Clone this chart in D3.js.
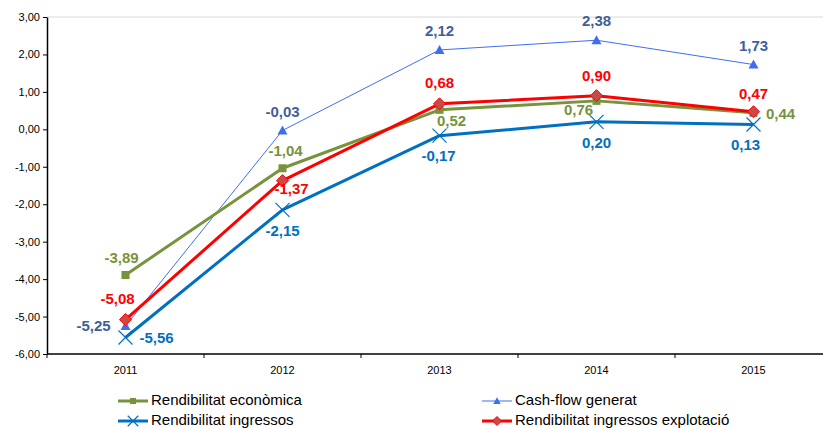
<!DOCTYPE html>
<html>
<head>
<meta charset="utf-8">
<script src="https://cdn.jsdelivr.net/npm/d3@7"></script>
<style>
  html, body { margin: 0; padding: 0; background: #fff; }
  svg { display: block; font-family: "Liberation Sans", Arial, sans-serif; }
</style>
</head>
<body>
<svg id="chart" width="823" height="428"></svg>
<script>
// Years on the horizontal axis
const years = ["2011", "2012", "2013", "2014", "2015"];

// Series values
const rendEconomica = [-3.89, -1.04, 0.52, 0.76, 0.44];
const cashFlow = [-5.25, -0.03, 2.12, 2.38, 1.73];
const rendIngressos = [-5.56, -2.15, -0.17, 0.20, 0.13];
const rendExplotacio = [-5.08, -1.37, 0.68, 0.90, 0.47];

// Series names
const seriesNames = ["Rendibilitat econòmica", "Cash-flow generat", "Rendibilitat ingressos", "Rendibilitat ingressos explotació"];

// Y-axis tick values
const yTicks = [3, 2, 1, 0, -1, -2, -3, -4, -5, -6];

const svg = d3.select("#chart");
const fmt = v => d3.format(".2f")(v).replace(".", ",").replace("−", "-");

const plotLeft = 47, plotTop = 17, plotBottom = 354, bandW = 157;
const x = d3.scaleBand().domain(years).range([plotLeft, plotLeft + bandW * years.length]);
const y = d3.scaleLinear().domain([-6, 3]).range([plotBottom, plotTop]);
const cx = d => x(d) + x.bandwidth() / 2;

// top gridline
svg.append("line")
  .attr("x1", plotLeft).attr("x2", 823)
  .attr("y1", y(3)).attr("y2", y(3))
  .attr("stroke", "#d9d9d9").attr("stroke-width", 1);

// Y axis
const yAxis = svg.append("g").attr("transform", `translate(${plotLeft},0)`)
  .call(d3.axisLeft(y).tickValues(yTicks).tickFormat(fmt).tickSize(4).tickSizeOuter(0));
yAxis.select(".domain").attr("stroke", "#000").attr("stroke-width", 1.5);
yAxis.selectAll(".tick line").attr("stroke", "#000");
yAxis.selectAll(".tick text").attr("font-size", 11).attr("fill", "#000")
  .attr("font-family", "Liberation Sans, Arial, sans-serif").attr("x", -7);

// X axis with ticks between categories
const xAxis = svg.append("g").attr("transform", `translate(0,${plotBottom})`);
xAxis.append("line").attr("x1", plotLeft).attr("x2", 823).attr("y1", 0).attr("y2", 0)
  .attr("stroke", "#000").attr("stroke-width", 1.5);
years.forEach((yr, i) => {
  xAxis.append("line").attr("x1", x(yr)).attr("x2", x(yr)).attr("y1", 0).attr("y2", 4)
    .attr("stroke", "#000");
  xAxis.append("text").attr("x", cx(yr)).attr("y", 20).attr("text-anchor", "middle")
    .attr("font-size", 11).attr("fill", "#000").text(yr);
});

const series = [
  { name: seriesNames[0], values: rendEconomica, color: "#77933C", width: 3, marker: "square", markerColor: "#77933C", labelColor: "#77933C" },
  { name: seriesNames[1], values: cashFlow, color: "#3F6FF0", width: 1, marker: "triangle", markerColor: "#3F6FF0", labelColor: "#3F5F9A" },
  { name: seriesNames[2], values: rendIngressos, color: "#0070C0", width: 3, marker: "cross", markerColor: "#0070C0", labelColor: "#0070C0" },
  { name: seriesNames[3], values: rendExplotacio, color: "#FF0000", width: 3, marker: "diamond", markerColor: "#C94A4A", labelColor: "#FF0000" }
];

// label offsets [dx, dy] relative to each point
const labelOffsets = [
  [[-4, -16], [3, -16], [12, 12], [-18, 10], [27, 2]],
  [[-32, 1], [0, -17], [0, -18], [0, -18], [0, -18]],
  [[31, 2], [0, 22], [-1, 21], [0, 22], [-8, 22]],
  [[-8, -20], [9, 9], [0, -20], [0, -19], [0, -17]]
];

function drawMarker(g, type, px, py, color, lineColor, k = 1) {
  if (type === "square") {
    g.append("rect").attr("x", px - 4 * k).attr("y", py - 4 * k).attr("width", 8 * k).attr("height", 8 * k).attr("fill", color);
  } else if (type === "triangle") {
    g.append("path").attr("d", `M${px},${py - 5 * k}L${px + 5 * k},${py + 4 * k}L${px - 5 * k},${py + 4 * k}Z`).attr("fill", color);
  } else if (type === "cross") {
    const r = 7 * k;
    g.append("path").attr("d", `M${px - r},${py - r}L${px + r},${py + r}M${px - r},${py + r}L${px + r},${py - r}`)
      .attr("stroke", color).attr("stroke-width", 1.2).attr("fill", "none");
  } else if (type === "diamond") {
    const r = 6 * k;
    g.append("path").attr("d", `M${px},${py - r}L${px + r},${py}L${px},${py + r}L${px - r},${py}Z`)
      .attr("fill", color).attr("stroke", lineColor).attr("stroke-width", 1);
  }
}

const line = d3.line().x((d, i) => cx(years[i])).y(d => y(d));

// draw lines in stacking order
const order = [1, 0, 2, 3];
order.forEach(si => {
  const s = series[si];
  const g = svg.append("g");
  g.append("path").datum(s.values).attr("d", line)
    .attr("fill", "none").attr("stroke", s.color).attr("stroke-width", s.width)
    .attr("stroke-linejoin", "round");
  s.values.forEach((v, i) => drawMarker(g, s.marker, cx(years[i]), y(v), s.markerColor, s.color));
});

// data labels
order.forEach(si => {
  const s = series[si];
  s.values.forEach((v, i) => {
    const [dx, dy] = labelOffsets[si][i];
    svg.append("text")
      .attr("x", cx(years[i]) + dx).attr("y", y(v) + dy)
      .attr("text-anchor", "middle").attr("dominant-baseline", "middle")
      .attr("font-size", 15).attr("font-weight", "bold")
      .attr("fill", s.labelColor).text(fmt(v));
  });
});

// legend
const legendPos = [[118, 401], [482, 401], [118, 421], [482, 421]];
series.forEach((s, i) => {
  const [lx, ly] = legendPos[i];
  const g = svg.append("g");
  g.append("line").attr("x1", lx).attr("x2", lx + 30).attr("y1", ly).attr("y2", ly)
    .attr("stroke", s.color).attr("stroke-width", s.width);
  drawMarker(g, s.marker, lx + 15, ly, s.markerColor, s.color, 0.75);
  g.append("text").attr("x", lx + 33).attr("y", ly).attr("dominant-baseline", "middle")
    .attr("font-size", 15).attr("fill", "#000").text(s.name);
});
</script>
</body>
</html>
